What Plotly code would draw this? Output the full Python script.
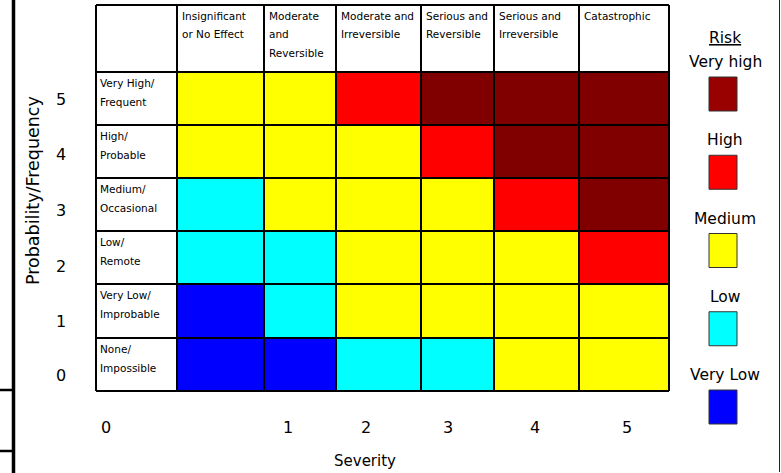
import plotly.graph_objects as go

# ---------------- data ----------------
severity_labels = [
    ["Insignificant", "or No Effect"],
    ["Moderate", "and", "Reversible"],
    ["Moderate and", "Irreversible"],
    ["Serious and", "Reversible"],
    ["Serious and", "Irreversible"],
    ["Catastrophic"],
]
probability_labels = [
    ["Very High/", "Frequent"],
    ["High/", "Probable"],
    ["Medium/", "Occasional"],
    ["Low/", "Remote"],
    ["Very Low/", "Improbable"],
    ["None/", "Impossible"],
]
probability_scores = ["5", "4", "3", "2", "1", "0"]
severity_scores = ["0", "1", "2", "3", "4", "5"]
risk_levels = ["Very Low", "Low", "Medium", "High", "Very high"]
risk_colors = ["#0000FF", "#00FFFF", "#FFFF00", "#FF0000", "#800000"]
# rows: probability 5 -> 0 ; columns: severity categories left -> right
risk_matrix = [
    [2, 2, 3, 4, 4, 4],
    [2, 2, 2, 3, 4, 4],
    [1, 2, 2, 2, 3, 4],
    [1, 1, 2, 2, 2, 3],
    [0, 1, 2, 2, 2, 2],
    [0, 0, 1, 1, 2, 2],
]

# ---------------- layout constants ----------------
W, H = 781, 473
FONT = "DejaVu Sans"
col_widths = [81, 87, 72, 85, 73, 85, 90]      # label column + 6 severity columns
row_heights = [67, 53, 53, 53, 53, 54, 53]     # header row + 6 probability rows
table_left, table_top = 96, 5
pad = 2

def cum(vals):
    out, s = [0], 0
    for v in vals:
        s += v
        out.append(s)
    return out

x_edges = cum(col_widths)
y_edges = cum(row_heights)
tw, th = x_edges[-1], y_edges[-1]

def px(x):
    return x / W

def py(y):
    return 1 - y / H

n = len(risk_levels)
colorscale = []
for i, c in enumerate(risk_colors):
    colorscale.append([i / n, c])
    colorscale.append([(i + 1) / n, c])

fig = go.Figure()
fig.add_trace(go.Heatmap(
    z=risk_matrix,
    x=x_edges[1:],
    y=y_edges[1:],
    zmin=-0.5, zmax=n - 0.5,
    colorscale=colorscale,
    showscale=False,
    hoverinfo="skip",
))

shapes = []
# table grid
for xe in x_edges:
    shapes.append(dict(type="line", xref="x", yref="y", x0=xe, x1=xe, y0=0, y1=th,
                       line=dict(color="black", width=2)))
for ye in y_edges:
    shapes.append(dict(type="line", xref="x", yref="y", x0=0, x1=tw, y0=ye, y1=ye,
                       line=dict(color="black", width=2)))

annotations = []
small = dict(family=FONT, size=10.5, color="black")
# header texts
for j, lines in enumerate(severity_labels):
    for k, t in enumerate(lines):
        annotations.append(dict(xref="x", yref="y", x=x_edges[j + 1] + 3, y=11 + 18.5 * k,
                                text=t, showarrow=False, xanchor="left", yanchor="middle",
                                font=small))
# row label texts
for i, lines in enumerate(probability_labels):
    for k, t in enumerate(lines):
        annotations.append(dict(xref="x", yref="y", x=2, y=y_edges[i + 1] + 11 + 19 * k,
                                text=t, showarrow=False, xanchor="left", yanchor="middle",
                                font=small))

big = dict(family=FONT, size=16, color="black")
# probability scores
prob_y = [100, 155, 211, 266, 321, 375]
for s, yy in zip(probability_scores, prob_y):
    annotations.append(dict(xref="paper", yref="paper", x=px(61), y=py(yy), text=s,
                            showarrow=False, xanchor="center", yanchor="middle", font=big))
# severity scores
sev_x = [106, 288, 366, 448, 535, 627]
for s, xx in zip(severity_scores, sev_x):
    annotations.append(dict(xref="paper", yref="paper", x=px(xx), y=py(427), text=s,
                            showarrow=False, xanchor="center", yanchor="middle", font=big))
# axis titles
annotations.append(dict(xref="paper", yref="paper", x=px(33), y=py(191),
                        text="Probability/Frequency", textangle=-90, showarrow=False,
                        xanchor="center", yanchor="middle",
                        font=dict(family=FONT, size=17.5, color="black")))
annotations.append(dict(xref="paper", yref="paper", x=px(365), y=py(461), text="Severity",
                        showarrow=False, xanchor="center", yanchor="middle",
                        font=dict(family=FONT, size=15, color="black")))

# legend
legend_font = dict(family=FONT, size=15.5, color="black")
annotations.append(dict(xref="paper", yref="paper", x=px(725), y=py(38), text="<u>Risk</u>",
                        showarrow=False, xanchor="center", yanchor="middle", font=legend_font))
legend_swatch = {"Very high": "#990000"}
for idx, lvl in enumerate(reversed(risk_levels)):
    top = 77 + 78.25 * idx
    col = legend_swatch.get(lvl, risk_colors[risk_levels.index(lvl)])
    annotations.append(dict(xref="paper", yref="paper", x=px(725), y=py(top - 15), text=lvl,
                            showarrow=False, xanchor="center", yanchor="middle",
                            font=legend_font))
    shapes.append(dict(type="rect", xref="paper", yref="paper",
                       x0=px(709), x1=px(737), y0=py(top + 34), y1=py(top),
                       fillcolor=col, line=dict(color="#333333", width=1)))

# page decorations
shapes.append(dict(type="line", xref="paper", yref="paper", x0=px(13.5), x1=px(13.5),
                   y0=0, y1=1, line=dict(color="black", width=3.5)))
for yy in (390, 451):
    shapes.append(dict(type="line", xref="paper", yref="paper", x0=0, x1=px(14),
                       y0=py(yy), y1=py(yy), line=dict(color="black", width=2.5)))
shapes.append(dict(type="line", xref="paper", yref="paper", x0=px(779.5), x1=px(779.5),
                   y0=py(472), y1=1, line=dict(color="#222222", width=1)))

fig.update_layout(
    width=W, height=H,
    margin=dict(l=0, r=0, t=0, b=0),
    paper_bgcolor="white", plot_bgcolor="white",
    showlegend=False,
    xaxis=dict(domain=[px(table_left - pad), px(table_left + tw + pad)],
               range=[-pad, tw + pad], visible=False, fixedrange=True),
    yaxis=dict(domain=[py(table_top + th + pad), py(table_top - pad)],
               range=[th + pad, -pad], visible=False, fixedrange=True),
    shapes=shapes,
    annotations=annotations,
)

fig.write_html(
    "out.html",
    config={"displayModeBar": False},
    post_script="document.body.style.margin='0';document.body.style.overflow='hidden';",
)
